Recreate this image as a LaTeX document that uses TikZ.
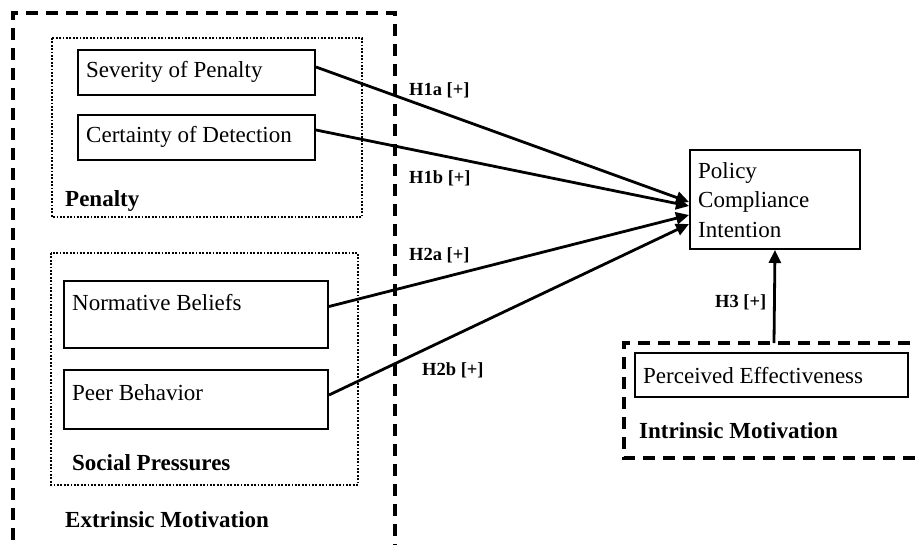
\documentclass[tikz,border=0pt]{standalone}
\usepackage{fontspec}
\setmainfont{Liberation Serif}
\usetikzlibrary{arrows.meta}
\begin{document}
\begin{tikzpicture}[x=1pt,y=-1pt,
  grp/.style={line width=3.2pt, dash pattern=on 12pt off 8pt},
  sub/.style={line width=1.8pt, dash pattern=on 1.8pt off 1.6pt},
  box/.style={draw, line width=2pt, inner sep=0pt, anchor=north west},
  txt/.style={anchor=west, inner sep=0pt, font=\fontsize{23}{28.5}\selectfont},
  btxt/.style={anchor=west, inner sep=0pt, font=\fontsize{23}{28}\selectfont\bfseries},
  hyp/.style={anchor=west, inner sep=0pt, font=\fontsize{18.5}{22}\selectfont\bfseries},
  arr/.style={line width=2.8pt, -{Triangle[length=13pt,width=12pt]}}]
\useasboundingbox (0,0) rectangle (916,544);
% group frames
\draw[grp] (13,560) -- (13,13) -- (395,13) -- (395,560);
\draw[grp] (930,343) -- (624,343) -- (624,458) -- (930,458);
\draw[sub] (52,38) rectangle (362,217);
\draw[sub] (51,253) rectangle (358,485);
% boxes
\node[box, minimum width=237pt, minimum height=45pt] (sev) at (77,49) {};
\node[box, minimum width=237pt, minimum height=45pt] (cer) at (77,114) {};
\node[box, minimum width=264pt, minimum height=67pt] (nor) at (63,280) {};
\node[box, minimum width=264pt, minimum height=59pt] (peer) at (63,369) {};
\node[box, minimum width=170pt, minimum height=99pt] (pol) at (689,149) {};
\node[box, minimum width=273pt, minimum height=44pt] (per) at (634,352) {};
% texts
\node[txt] (tsev) at (86,71.5) {Severity of Penalty};
\node[txt] (tcer) at (86,136.5) {Certainty of Detection};
\node[txt] (tnor) at (72,303) {Normative Beliefs};
\node[txt] (tpeer) at (72,393) {Peer Behavior};
\node[txt] (tpol1) at (698,173) {Policy};
\node[txt] (tpol2) at (698,202) {Compliance};
\node[txt] (tpol3) at (698,230) {Intention};
\node[txt] (tper) at (643,376) {Perceived Effectiveness};
\node[btxt] (lpen) at (65,201) {Penalty};
\node[btxt] (lsoc) at (72,463) {Social Pressures};
\node[btxt] (lext) at (65,520) {Extrinsic Motivation};
\node[btxt] (lint) at (639,431) {Intrinsic Motivation};
% hypothesis labels
\node[hyp] (h1a) at (409,90) {H1a [+]};
\node[hyp] (h1b) at (409,178) {H1b [+]};
\node[hyp] (h2a) at (409,255) {H2a [+]};
\node[hyp] (h2b) at (422,370) {H2b [+]};
\node[hyp] (h3) at (715,302) {H3 [+]};
% connectors
\coordinate (h3start) at (774,343);
\draw[arr] ([yshift=5.5pt]sev.east) -- ([yshift=-2.5pt]pol.west);
\draw[arr] ([yshift=7.5pt]cer.east) -- ([yshift=-6.5pt]pol.west);
\draw[arr] ([yshift=8pt]nor.east) -- ([yshift=-15.5pt]pol.west);
\draw[arr] ([yshift=4.5pt]peer.east) -- ([yshift=-24.5pt]pol.west);
\draw[arr] (h3start) -- (pol.south);
\end{tikzpicture}
\end{document}
